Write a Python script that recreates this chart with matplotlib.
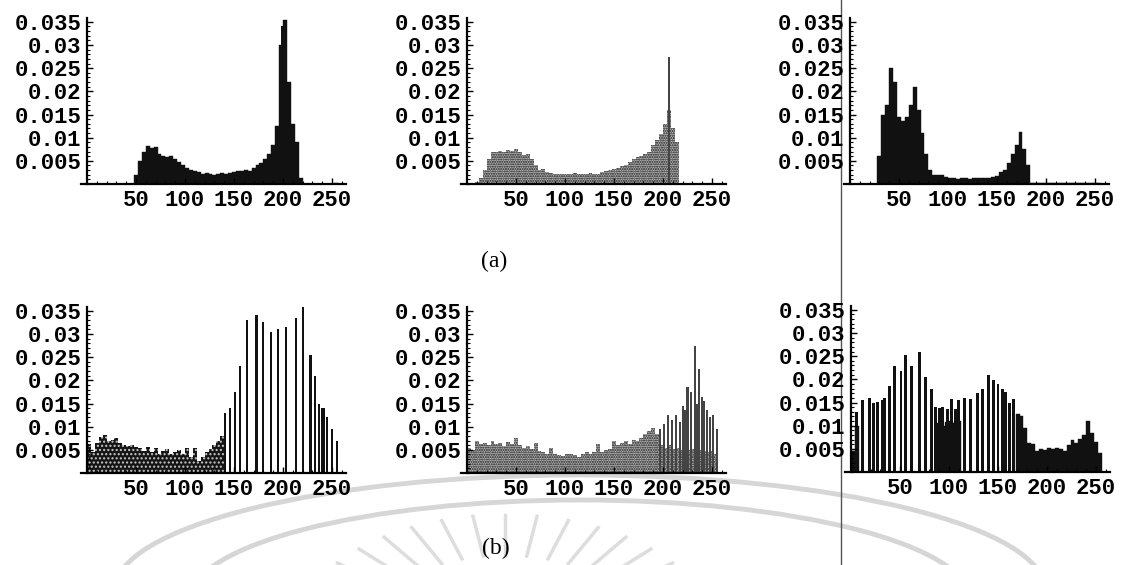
import numpy as np
import matplotlib.pyplot as plt
from matplotlib.patches import Arc
from matplotlib.ticker import MultipleLocator

W, H = 1133, 565
BIN = 4
edges = np.arange(0, 256, BIN)

# ---- row (a): histograms, 4-level bins from 0 to 252 ----
a1_hist = [0, 0, 0, 0, 0, 0, 0, 0, 0, 0, 0, 0,
           0.002, 0.005, 0.007, 0.0082, 0.0078, 0.008, 0.0065, 0.006,
           0.0058, 0.006, 0.0055, 0.0048, 0.004, 0.0035, 0.003, 0.0028,
           0.0025, 0.0022, 0.0024, 0.0021, 0.002, 0.0022, 0.0023, 0.0022,
           0.0024, 0.0026, 0.0028, 0.0027, 0.003, 0.0028, 0.0035, 0.0042,
           0.0045, 0.0055, 0.0065, 0.0085, 0.0125, 0.03, 0.0355, 0.022,
           0.013, 0.009, 0.0012, 0, 0, 0, 0, 0, 0, 0, 0, 0.0003]
a1_spike_x = [199]
a1_spike_y = [0.034]

a2_hist = [0.0003, 0.0003, 0.0004, 0.0012, 0.003, 0.0055, 0.0068, 0.007,
           0.0072, 0.007, 0.0074, 0.0071, 0.0076, 0.0068, 0.0062, 0.0064,
           0.0055, 0.0042, 0.003, 0.0032, 0.0025, 0.0023, 0.0022, 0.0021,
           0.0022, 0.0021, 0.0022, 0.0023, 0.0021, 0.0022, 0.0022, 0.0023,
           0.0022, 0.0022, 0.0025, 0.0027, 0.003, 0.0032, 0.0035, 0.0038,
           0.0042, 0.0048, 0.0055, 0.0058, 0.006, 0.0065, 0.007, 0.0085,
           0.0095, 0.0108, 0.013, 0.016, 0.012, 0.009, 0.0003, 0.0002,
           0.0002, 0.0002, 0.0002, 0.0002, 0.0002, 0.0002, 0.0002, 0.0002]
a2_spike_x = [206]
a2_spike_y = [0.0275]

a3_hist = [0, 0, 0, 0, 0, 0, 0,
           0.006, 0.015, 0.017, 0.025, 0.022, 0.0145, 0.0135, 0.0145, 0.017,
           0.021, 0.016, 0.011, 0.0065, 0.003, 0.002, 0.002, 0.002,
           0.0015, 0.0012, 0.0012, 0.0011, 0.0012, 0.0012, 0.0011, 0.0012,
           0.0013, 0.0012, 0.0014, 0.0013, 0.0016, 0.0018, 0.0025, 0.003,
           0.0045, 0.0065, 0.0085, 0.0112, 0.0075, 0.0042,
           0.0002, 0.0002, 0.0002, 0.0002, 0.0002, 0.0002, 0.0002, 0.0002, 0.0002,
           0.0002, 0.0002, 0.0002, 0.0002, 0.0002, 0.0002, 0.0002, 0.0002, 0.0002]
a3_spike_x = []
a3_spike_y = []

# ---- row (b) ----
b1_hist = [0.0062, 0.0045, 0.0065, 0.0078, 0.0082, 0.007, 0.0072, 0.0075,
           0.0065, 0.006, 0.0058, 0.006, 0.0057, 0.0055, 0.0048, 0.0056,
           0.0045, 0.0055, 0.0042, 0.0048, 0.0052, 0.004, 0.0045, 0.005,
           0.0042, 0.0055, 0.0035, 0.0055, 0.0025, 0.0035, 0.0045, 0.0052,
           0.006, 0.0068, 0.008,
           0, 0, 0, 0, 0, 0, 0, 0, 0, 0, 0, 0, 0, 0, 0, 0, 0, 0, 0, 0,
           0, 0, 0, 0, 0, 0, 0, 0, 0]
b1_spike_x = [141, 146, 151, 156, 163, 173, 180, 188, 195, 203,
              213, 220, 228, 233, 237, 240, 242, 245, 250, 255]
b1_spike_y = [0.013, 0.014, 0.0175, 0.023, 0.033, 0.034, 0.0325, 0.0305, 0.031, 0.0315,
              0.0335, 0.036, 0.0255, 0.021, 0.015, 0.014, 0.014, 0.012, 0.0095, 0.0068]

b2_hist = [0.0055, 0.005, 0.0068, 0.0062, 0.0065, 0.006, 0.0068, 0.0062,
           0.0065, 0.0058, 0.0066, 0.0062, 0.0075, 0.006, 0.0055, 0.0058,
           0.0052, 0.0065, 0.0048, 0.0045, 0.0042, 0.0055, 0.004, 0.0038,
           0.0036, 0.004, 0.0042, 0.0038, 0.0035, 0.004, 0.0045, 0.004,
           0.0045, 0.0062, 0.0045, 0.005, 0.0052, 0.0068, 0.006, 0.0065,
           0.007, 0.0062, 0.0072, 0.0068, 0.0075, 0.0085, 0.009, 0.0098,
           0.0085, 0.006, 0.0055, 0.006, 0.0052, 0.0055, 0.005, 0.0055,
           0.005, 0.0052, 0.0055, 0.005, 0.0048, 0.0045, 0.0048, 0.0042]
b2_spike_x = [197, 201, 205, 209, 213, 217, 220, 223, 225, 229,
              233, 235, 237, 240, 242, 245, 248, 251, 255]
b2_spike_y = [0.0095, 0.0105, 0.0125, 0.0115, 0.0125, 0.011, 0.0145, 0.0135, 0.0185, 0.0175,
              0.0275, 0.015, 0.0225, 0.0165, 0.0155, 0.0135, 0.012, 0.0125, 0.0095]

b3_hist = [0.0045, 0.01, 0, 0, 0, 0, 0, 0, 0, 0, 0, 0, 0, 0, 0, 0,
           0, 0, 0, 0, 0, 0, 0.0105, 0.01, 0.0108, 0.011, 0.0105, 0.011,
           0, 0, 0, 0, 0, 0, 0, 0, 0, 0, 0, 0, 0, 0,
           0.0125, 0.012, 0.0095, 0.0062, 0.006, 0.0045, 0.005, 0.0048,
           0.0052, 0.005, 0.0052, 0.005, 0.0045, 0.0058, 0.0068, 0.0062,
           0.0072, 0.008, 0.011, 0.0085, 0.0065, 0.004]
b3_spike_x = [6, 12, 19, 23, 27, 32, 34, 39, 44, 51,
              56, 62, 70, 76, 82, 86, 90, 93, 98, 103,
              107, 110, 116, 122, 129, 134, 140, 145, 150, 155,
              158, 162, 166]
b3_spike_y = [0.013, 0.0155, 0.016, 0.015, 0.0152, 0.0155, 0.016, 0.0185, 0.0228, 0.0218,
              0.0252, 0.0228, 0.0258, 0.0205, 0.018, 0.014, 0.0138, 0.014, 0.0135, 0.0158,
              0.0135, 0.0155, 0.016, 0.0158, 0.017, 0.018, 0.021, 0.0198, 0.019, 0.018,
              0.0172, 0.015, 0.0158]

yticks = [0.005, 0.01, 0.015, 0.02, 0.025, 0.03, 0.035]
ytick_labels = ['0.005', '0.01', '0.015', '0.02', '0.025', '0.03', '0.035']
xticks = [50, 100, 150, 200, 250]

fig = plt.figure(figsize=(W / 100, H / 100), dpi=100)

# background: faint watermark of the scan and the page line
bg = fig.add_axes([0, 0, 1, 1], zorder=-5)
bg.set_xlim(0, W)
bg.set_ylim(H, 0)
bg.axis('off')
wm = '#d6d6d6'
# y axis is flipped here, so the upper half of an arc is theta 180..360
bg.add_patch(Arc((580, 590), 930, 230, theta1=180, theta2=360, color=wm, lw=3.5))
bg.add_patch(Arc((580, 600), 780, 200, theta1=180, theta2=360, color=wm, lw=3.5))
for ang in np.linspace(38, 142, 13):
    t = np.radians(ang)
    bg.plot([505 + 85 * np.cos(t) * 1.7, 505 + 125 * np.cos(t) * 1.7],
            [640 - 85 * np.sin(t), 640 - 125 * np.sin(t)], color='#dddddd', lw=2.5)
bg.plot([841, 841], [0, H], color='#555555', lw=1)

bg.text(494, 261, '(a)', fontsize=17, family='Liberation Serif', ha='center', va='center')
bg.text(496, 548, '(b)', fontsize=17, family='Liberation Serif', ha='center', va='center')

PPU = 0.98
XMIN, XMAX = -6, 264
YTOP = 0.0358


def panel(x0, y0, hist, spike_x, spike_y, style, spike_w=2.2):
    left = (x0 + XMIN * PPU) / W
    width = (XMAX - XMIN) * PPU / W
    height = YTOP * 4633 / H
    ax = fig.add_axes([left, (H - y0) / H, width, height])
    if style == 'stipple':
        kw = dict(facecolor='#b4b4b4', edgecolor='#1a1a1a', hatch='.......', linewidth=0)
        skw = dict(color='#444444', linewidth=0)
    elif style == 'speck':
        kw = dict(facecolor='#151515', edgecolor='#c8c8c8', hatch='....', linewidth=0)
        skw = dict(color='#111111', linewidth=0)
    else:
        kw = dict(facecolor='#111111', edgecolor='#111111', linewidth=0.3)
        skw = dict(color='#111111', linewidth=0)
    ax.bar(edges, hist, width=BIN, align='edge', **kw)
    if spike_x:
        ax.bar(spike_x, spike_y, width=spike_w, **skw)
    ax.set_xlim(XMIN, XMAX)
    ax.set_ylim(0, YTOP)
    for s in ['top', 'right']:
        ax.spines[s].set_visible(False)
    ax.spines['left'].set_position(('data', 0))
    ax.spines['left'].set_linewidth(1.6)
    ax.spines['bottom'].set_linewidth(1.6)
    ax.patch.set_alpha(0)
    ax.set_xticks(xticks)
    ax.set_xticklabels([str(v) for v in xticks])
    ax.set_yticks(yticks)
    ax.set_yticklabels(ytick_labels)
    ax.xaxis.set_minor_locator(MultipleLocator(10))
    ax.yaxis.set_minor_locator(MultipleLocator(0.001))
    ax.tick_params(which='major', direction='in', length=4, width=1, pad=4)
    ax.tick_params(which='minor', direction='in', length=2, width=0.8)
    for lab in ax.get_xticklabels() + ax.get_yticklabels():
        lab.set_family('Liberation Mono')
        lab.set_weight('bold')
        lab.set_fontsize(16)
    return ax


panel(87, 184, a1_hist, a1_spike_x, a1_spike_y, 'solid')
panel(467, 184, a2_hist, a2_spike_x, a2_spike_y, 'stipple')
panel(850, 184, a3_hist, a3_spike_x, a3_spike_y, 'solid')
panel(87, 473, b1_hist, b1_spike_x, b1_spike_y, 'speck')
panel(467, 473, b2_hist, b2_spike_x, b2_spike_y, 'stipple')
panel(851, 472, b3_hist, b3_spike_x, b3_spike_y, 'solid', spike_w=3.0)

fig.savefig('out.png', dpi=100)
